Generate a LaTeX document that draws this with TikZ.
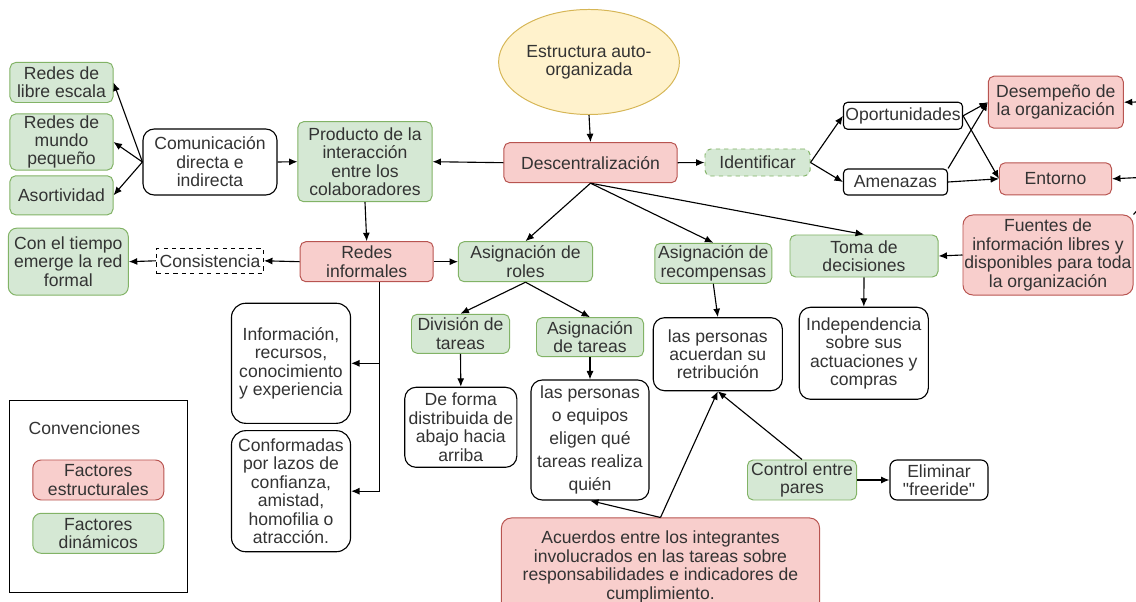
\documentclass[tikz,border=0pt]{standalone}
\usepackage{fontspec}
\setmainfont{Liberation Sans}
\usetikzlibrary{shapes.geometric, arrows.meta}
\definecolor{estrfill}{HTML}{F8CECC}
\definecolor{estrline}{HTML}{B85450}
\definecolor{dinafill}{HTML}{D5E8D4}
\definecolor{dinaline}{HTML}{82B366}
\definecolor{elipfill}{HTML}{FFF2CC}
\definecolor{elipline}{HTML}{D6B656}
\begin{document}
\begin{tikzpicture}[x=0.025cm, y=-0.025cm,
  every node/.style={font=\fontsize{12.5}{13.1}\selectfont, text=black!80, align=center, inner sep=1pt},
  estr/.style={rectangle, rounded corners=4pt, draw=estrline, fill=estrfill, line width=0.7pt},
  dina/.style={rectangle, rounded corners=4pt, draw=dinaline, fill=dinafill, line width=0.7pt},
  blanco/.style={rectangle, rounded corners=8pt, draw=black, fill=white, line width=0.8pt},
  flecha/.style={-{Latex[length=6pt, width=5pt]}, line width=0.8pt}]
\useasboundingbox (0,0) rectangle (1136,602);

% centro
\node[ellipse, draw=elipline, fill=elipfill, line width=0.7pt, minimum width=4.45cm, minimum height=2.625cm] (estructura) at (589,62) {Estructura auto-\\organizada};
\node[estr, minimum width=4.325cm, minimum height=1cm] (descentral) at (590.5,162.7) {Descentralización};
\node[dina, minimum width=3.35cm, minimum height=2cm] (producto) at (365,161.7) {Producto de la\\interacción\\entre los\\colaboradores};
\node[blanco, minimum width=3.35cm, minimum height=1.65cm] (comunicacion) at (210,162) {Comunicación\\directa e\\indirecta};

% redes a la izquierda
\node[dina, minimum width=2.575cm, minimum height=1cm] (libre) at (61.5,82.5) {Redes de\\libre escala};
\node[dina, minimum width=2.575cm, minimum height=1.325cm] (mundo) at (61.5,142) {Redes de\\mundo\\pequeño};
\node[dina, minimum width=2.575cm, minimum height=0.975cm] (asort) at (61.5,195.3) {Asortividad};

% derecha
\node[dina, dashed, minimum width=2.625cm, minimum height=0.675cm] (identificar) at (757.5,162.5) {Identificar};
\node[blanco, rounded corners=3pt, minimum width=2.975cm, minimum height=0.675cm] (oportunidades) at (903,115.8) {Oportunidades};
\node[blanco, rounded corners=3pt, minimum width=2.6cm, minimum height=0.65cm] (amenazas) at (895.5,182) {Amenazas};
\node[estr, minimum width=3.375cm, minimum height=1.3cm] (desempeno) at (1055.8,102.2) {Desempeño de\\la organización};
\node[estr, minimum width=2.8cm, minimum height=0.8cm] (entorno) at (1055.5,178.8) {Entorno};
\node[estr, rounded corners=7pt, minimum width=4.25cm, minimum height=2cm] (fuentes) at (1048,255) {Fuentes de\\información libres y\\disponibles para toda\\la organización};
\coordinate (borde desempeno) at (1140,102);
\coordinate (borde entorno) at (1140,177.5);
\coordinate (borde fuentes) at (1140,207);

% segunda fila
\node[estr, minimum width=3.325cm, minimum height=1cm] (redes) at (366.7,261.7) {Redes\\informales};
\node[rectangle, draw=black, dashed, fill=white, line width=0.7pt, minimum width=2.675cm, minimum height=0.625cm] (consistencia) at (210,260.8) {Consistencia};
\node[dina, rounded corners=6pt, minimum width=3cm, minimum height=1.675cm] (tiempo) at (68.3,261.7) {Con el tiempo\\emerge la red\\formal};
\node[dina, minimum width=3.35cm, minimum height=1cm] (roles) at (525.5,261.7) {Asignación de\\roles};
\node[dina, minimum width=2.925cm, minimum height=1cm] (recompensas) at (713.3,263.3) {Asignación de\\recompensas};
\node[dina, minimum width=3.7cm, minimum height=1.05cm] (toma) at (864,256) {Toma de\\decisiones};

% tercera fila
\node[dina, minimum width=2.45cm, minimum height=0.975cm] (division) at (460.5,333.8) {División de\\tareas};
\node[dina, minimum width=2.675cm, minimum height=0.975cm] (asigtareas) at (590,337.2) {Asignación\\de tareas};
\node[blanco, minimum width=3.225cm, minimum height=1.825cm] (retribucion) at (717.8,354.2) {las personas\\acuerdan su\\retribución};
\node[blanco, minimum width=3.225cm, minimum height=2.3cm] (independencia) at (863.8,353.3) {Independencia\\sobre sus\\actuaciones y\\compras};
\node[blanco, minimum width=2.8cm, minimum height=2cm] (abajo) at (460.8,427.3) {De forma\\distribuida de\\abajo hacia\\arriba};
\node[blanco, font=\fontsize{12.5}{16.5}\selectfont, minimum width=2.95cm, minimum height=3cm] (eligen) at (590,440) {las personas\\o equipos\\eligen qué\\tareas realiza\\quién};
\node[blanco, rounded corners=10pt, minimum width=2.975cm, minimum height=3cm] (info) at (291,363.3) {Información,\\recursos,\\conocimiento\\y experiencia};
\node[blanco, rounded corners=10pt, minimum width=2.975cm, minimum height=3.025cm] (conformadas) at (291,491.2) {Conformadas\\por lazos de\\confianza,\\amistad,\\homofilia o\\atracción.};

% abajo
\node[estr, rounded corners=7pt, minimum width=7.95cm, minimum height=2.45cm] (acuerdos) at (660.5,567) {Acuerdos entre los integrantes\\involucrados en las tareas sobre\\responsabilidades e indicadores de\\cumplimiento.};
\node[dina, minimum width=2.725cm, minimum height=1cm] (control) at (802,480) {Control entre\\pares};
\node[blanco, rounded corners=5pt, minimum width=2.45cm, minimum height=1cm] (eliminar) at (939,480) {Eliminar\\\textquotedbl freeride\textquotedbl};

% convenciones
\node[rectangle, draw=black, line width=0.8pt, minimum width=4.45cm, minimum height=4.8cm] (convenciones) at (98.3,496.7) {};
\node[anchor=west] (titulo conv) at (27,428) {Convenciones};
\node[estr, rounded corners=6pt, minimum width=3.275cm, minimum height=1cm] (estructurales) at (98.3,480) {Factores\\estructurales};
\node[dina, rounded corners=6pt, minimum width=3.275cm, minimum height=1cm] (dinamicos) at (98.3,533.3) {Factores\\dinámicos};

% conectores
\draw[flecha] (estructura.south) -- (descentral.north);
\draw[flecha] (descentral.west) -- (producto.east);
\draw[flecha] (comunicacion.east) -- (producto.west);
\foreach \n in {libre, mundo, asort}
  \draw[flecha] (comunicacion.west) -- (\n.east);
\draw[flecha] (descentral.east) -- (identificar.west);
\foreach \n in {oportunidades, amenazas}
  \draw[flecha] (identificar.east) -- (\n.west);
\draw[flecha] (oportunidades.east) -- (desempeno.west);
\draw[flecha] (oportunidades.east) -- (entorno.west);
\draw[flecha] (amenazas.north east) -- (desempeno.west);
\draw[flecha] (amenazas.east) -- (entorno.west);
\draw[flecha] (borde desempeno) -- (desempeno.east);
\draw[flecha] (borde entorno) -- (entorno.east);
\draw[line width=0.8pt] (fuentes.north east) -- (borde fuentes);
\foreach \n in {roles, recompensas, toma}
  \draw[flecha] (descentral.south) -- (\n.north);
\draw[flecha] (fuentes.west) -- (toma.east);
\draw[flecha] (toma.south) -- (independencia.north);
\draw[flecha] (producto.south) -- (redes.north);
\draw[flecha] (redes.west) -- (consistencia.east);
\draw[flecha] (consistencia.west) -- (tiempo.east);
\draw[flecha] (redes.east) -- (roles.west);
\draw[flecha] ([xshift=0.33cm]redes.south) |- (info.east);
\draw[flecha] ([xshift=0.33cm]redes.south) |- (conformadas.east);
\foreach \n in {division, asigtareas}
  \draw[flecha] (roles.south) -- (\n.north);
\draw[flecha] (division.south) -- (abajo.north);
\draw[flecha] (asigtareas.south) -- (eligen.north);
\draw[flecha] (recompensas.south) -- (retribucion.north);
\draw[flecha] (acuerdos.north) -- (eligen.south);
\draw[flecha] (acuerdos.north) -- (retribucion.south);
\draw[flecha] (control.north) -- (retribucion.south);
\draw[flecha] (control.east) -- (eliminar.west);
\end{tikzpicture}
\end{document}
